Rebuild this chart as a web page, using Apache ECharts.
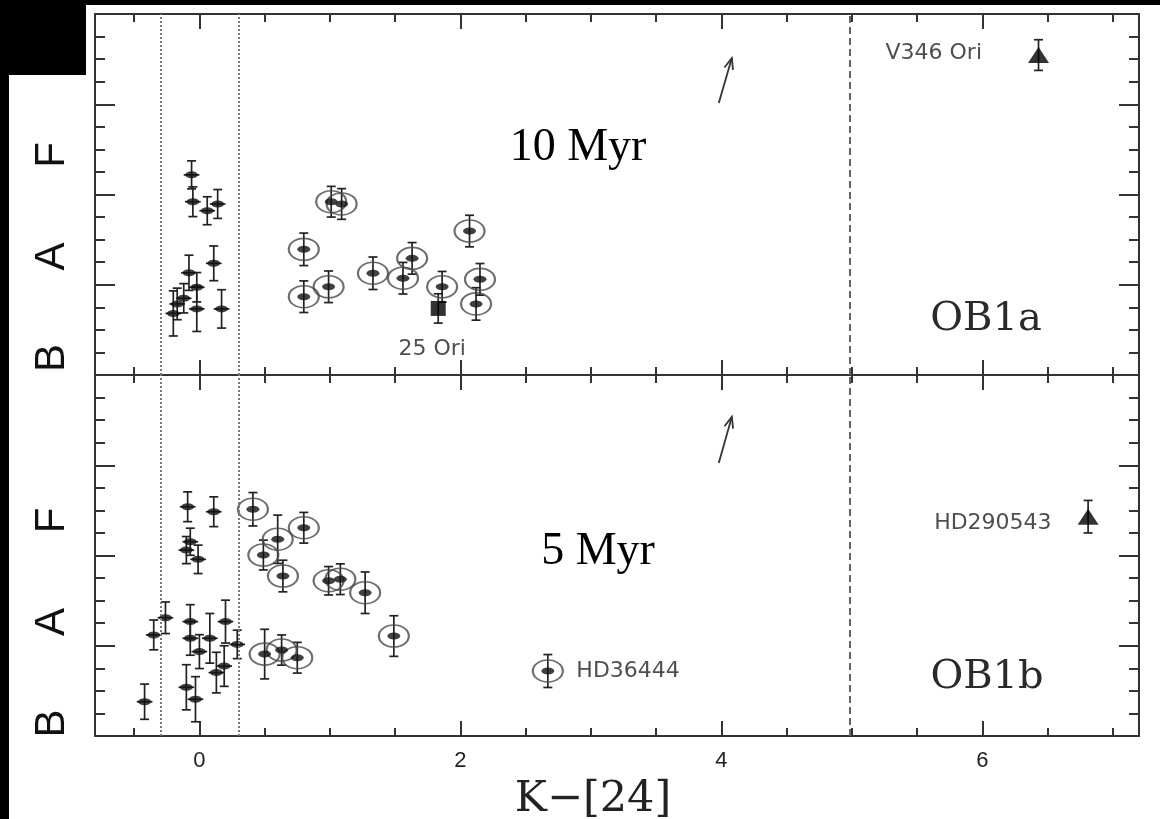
<!DOCTYPE html>
<html>
<head>
<meta charset="utf-8">
<script src="https://cdn.jsdelivr.net/npm/echarts@6/dist/echarts.min.js"></script>
<style>
  html, body { margin: 0; padding: 0; background: #fff; }
  #chart { width: 1160px; height: 819px; }
</style>
</head>
<body>
<div id="chart"></div>
<script>
// axis ranges and ticks
const xMin = -0.8, xMax = 7.2
const yMin = 0, yMax = 16
const xTicksMajor = [0, 2, 4, 6]
const xTicksMinor = [-0.5, 0.5, 1, 1.5, 2.5, 3, 3.5, 4.5, 5, 5.5, 6.5, 7]
const yTicksMajor = [4, 8, 12]
const yTicksMinor = [1, 2, 3, 5, 6, 7, 9, 10, 11, 13, 14, 15]
const specNames = ['B', 'A', 'F']
const specPosA = [0.75, 5.25, 9.75]
const specPosB = [0.55, 5.05, 9.55]
const guideLines = [-0.3, 0.3]
const dashedLine = 4.98

// OB1a (10 Myr): [K-[24], spectral type, y error]
const ob1aField = [
  [-0.06, 8.87, 0.62],
  [-0.05, 7.68, 0.66],
  [0.06, 7.28, 0.62],
  [0.14, 7.58, 0.64],
  [0.11, 4.95, 0.77],
  [-0.08, 4.53, 0.78],
  [-0.02, 3.89, 0.65],
  [-0.12, 3.40, 0.65],
  [-0.17, 3.15, 0.70],
  [-0.20, 2.73, 1.00],
  [-0.02, 2.93, 1.00],
  [0.17, 2.93, 0.85]
]
const ob1aDisk = [
  [0.80, 5.57, 0.72],
  [0.80, 3.47, 0.70],
  [0.99, 3.91, 0.70],
  [1.01, 7.68, 0.68],
  [1.09, 7.58, 0.68],
  [1.33, 4.51, 0.72],
  [1.56, 4.29, 0.70],
  [1.63, 5.17, 0.70],
  [1.86, 3.91, 0.68],
  [2.07, 6.38, 0.70],
  [2.15, 4.24, 0.70],
  [2.12, 3.15, 0.72]
]
const ob1aSquare = [[1.83, 2.95, 0.65]]
const ob1aTriangle = [[6.43, 14.18, 0.68]]
const ob1aArrow = [[3.98, 12.06, 4.08, 14.05]]

// OB1b (5 Myr)
const ob1bField = [
  [-0.09, 10.16, 0.66],
  [0.11, 9.94, 0.66],
  [-0.07, 8.61, 0.60],
  [-0.10, 8.24, 0.60],
  [-0.01, 7.83, 0.63],
  [-0.26, 5.24, 0.70],
  [-0.35, 4.48, 0.66],
  [-0.07, 5.07, 0.75],
  [-0.07, 4.33, 0.75],
  [0.08, 4.33, 1.10],
  [0.20, 5.07, 0.95],
  [0.29, 4.06, 0.63],
  [0.00, 3.74, 0.75],
  [0.19, 3.10, 0.90],
  [0.13, 2.81, 0.90],
  [-0.10, 2.16, 1.00],
  [-0.03, 1.63, 1.00],
  [-0.42, 1.52, 0.78]
]
const ob1bDisk = [
  [0.41, 10.05, 0.74],
  [0.60, 8.72, 1.07],
  [0.80, 9.23, 0.68],
  [0.49, 8.02, 0.66],
  [0.64, 7.09, 0.70],
  [0.99, 6.88, 0.63],
  [1.08, 6.95, 0.68],
  [1.27, 6.35, 0.92],
  [1.49, 4.43, 0.90],
  [0.50, 3.63, 1.10],
  [0.63, 3.81, 0.67],
  [0.75, 3.47, 0.68],
  [2.67, 2.88, 0.73]
]
const ob1bTriangle = [[6.81, 9.72, 0.72]]
const ob1bArrow = [[3.98, 12.1, 4.08, 14.15]]

const ink = '#111'
const frame = '#333'
const ellipsePath = 'path://M0 1A1 1 0 1 1 2 1A1 1 0 1 1 0 1Z'
const fieldXErr = 0.06

const chart = echarts.init(document.getElementById('chart'))

const renderErr = (params, api) => {
  const x = api.value(0), y = api.value(1), ey = api.value(2), ex = api.value(3)
  const st = { stroke: '#222', lineWidth: 1.7 }
  const top = api.coord([x, y + ey])
  const bot = api.coord([x, y - ey])
  const kids = [
    { type: 'line', shape: { x1: top[0], y1: top[1], x2: bot[0], y2: bot[1] }, style: st },
    { type: 'line', shape: { x1: top[0] - 4.5, y1: top[1], x2: top[0] + 4.5, y2: top[1] }, style: st },
    { type: 'line', shape: { x1: bot[0] - 4.5, y1: bot[1], x2: bot[0] + 4.5, y2: bot[1] }, style: st }
  ]
  if (ex > 0) {
    const l = api.coord([x - ex, y]), r = api.coord([x + ex, y])
    kids.push({ type: 'line', shape: { x1: l[0], y1: l[1], x2: r[0], y2: r[1] }, style: st })
  }
  return { type: 'group', children: kids }
}

const renderArrow = (params, api) => {
  const p0 = api.coord([api.value(0), api.value(1)])
  const p1 = api.coord([api.value(2), api.value(3)])
  const ang = Math.atan2(p1[1] - p0[1], p1[0] - p0[0])
  const len = 12, spread = 0.38
  const h1 = [p1[0] - len * Math.cos(ang - spread), p1[1] - len * Math.sin(ang - spread)]
  const h2 = [p1[0] - len * Math.cos(ang + spread), p1[1] - len * Math.sin(ang + spread)]
  const st = { stroke: '#333', lineWidth: 1.8, fill: null }
  return {
    type: 'group',
    children: [
      { type: 'line', shape: { x1: p0[0], y1: p0[1], x2: p1[0], y2: p1[1] }, style: st },
      { type: 'polyline', shape: { points: [h1, p1, h2] }, style: st }
    ]
  }
}

const withXErr = (rows, ex) => rows.map(r => [r[0], r[1], r[2], ex])

const lineOn = { show: true, onZero: false, lineStyle: { color: frame, width: 2 } }
const lineOff = { show: false, onZero: false }

const makeXAxes = (gi, withLabels) => {
  const base = { gridIndex: gi, type: 'value', min: xMin, max: xMax, splitLine: { show: false } }
  return [
    {
      ...base, position: 'bottom', axisLine: lineOn,
      axisTick: { show: true, inside: true, length: 15, customValues: xTicksMajor, lineStyle: { color: frame, width: 2 } },
      axisLabel: {
        show: withLabels, customValues: xTicksMajor, margin: 14,
        fontFamily: 'Liberation Sans', fontSize: 22, color: '#222'
      },
      name: withLabels ? 'K\u2212[24]' : '',
      nameLocation: 'middle', nameGap: 42,
      nameTextStyle: { fontFamily: 'DejaVu Serif', fontSize: 43, color: '#222', padding: [0, 48, 0, 0] }
    },
    {
      ...base, position: 'bottom', axisLine: lineOff,
      axisTick: { show: true, inside: true, length: 8, customValues: xTicksMinor, lineStyle: { color: frame, width: 2 } },
      axisLabel: { show: false }
    },
    {
      ...base, position: 'top', axisLine: lineOn,
      axisTick: { show: true, inside: true, length: 15, customValues: xTicksMajor, lineStyle: { color: frame, width: 2 } },
      axisLabel: { show: false }
    },
    {
      ...base, position: 'top', axisLine: lineOff,
      axisTick: { show: true, inside: true, length: 8, customValues: xTicksMinor, lineStyle: { color: frame, width: 2 } },
      axisLabel: { show: false }
    }
  ]
}

const makeYAxes = (gi, specPos) => {
  const base = { gridIndex: gi, type: 'value', min: yMin, max: yMax, splitLine: { show: false } }
  return [
    {
      ...base, position: 'left', axisLine: lineOn,
      axisTick: { show: true, inside: true, length: 20, customValues: yTicksMajor, lineStyle: { color: frame, width: 2 } },
      axisLabel: {
        show: true, customValues: specPos, rotate: 90, margin: 22,
        fontFamily: 'Liberation Sans', fontSize: 42, color: '#111',
        formatter: (v) => specNames[specPos.findIndex(p => Math.abs(p - v) < 0.01)] || ''
      }
    },
    {
      ...base, position: 'left', axisLine: lineOff,
      axisTick: { show: true, inside: true, length: 10, customValues: yTicksMinor, lineStyle: { color: frame, width: 2 } },
      axisLabel: { show: false }
    },
    {
      ...base, position: 'right', axisLine: lineOn,
      axisTick: { show: true, inside: true, length: 20, customValues: yTicksMajor, lineStyle: { color: frame, width: 2 } },
      axisLabel: { show: false }
    },
    {
      ...base, position: 'right', axisLine: lineOff,
      axisTick: { show: true, inside: true, length: 10, customValues: yTicksMinor, lineStyle: { color: frame, width: 2 } },
      axisLabel: { show: false }
    }
  ]
}

const labelFont = { fontFamily: 'DejaVu Sans', fontSize: 22, color: '#222' }

const panelSeries = (gi, field, disk, extras) => {
  const xi = gi * 4, yi = gi * 4
  const axes = { xAxisIndex: xi, yAxisIndex: yi }
  const list = [
    {
      type: 'scatter', ...axes, data: [], symbolSize: 0, silent: true,
      markLine: {
        silent: true, symbol: 'none', label: { show: false },
        data: [
          ...guideLines.map(v => ({ xAxis: v, lineStyle: { type: [2, 2], color: '#777', width: 2 } })),
          { xAxis: dashedLine, lineStyle: { type: [7, 4], color: '#666', width: 2 } }
        ]
      }
    },
    {
      type: 'custom', ...axes, renderItem: renderErr, silent: true,
      data: [...withXErr(field, fieldXErr), ...withXErr(disk, 0), ...withXErr(extras.markers, 0)]
    },
    {
      type: 'scatter', ...axes, symbol: ellipsePath, symbolSize: [30, 22], silent: true,
      itemStyle: { color: 'rgba(0,0,0,0)', borderColor: '#4a4a4a', borderWidth: 1.9 },
      data: disk
    },
    {
      type: 'scatter', ...axes, symbol: ellipsePath, symbolSize: [13, 7], silent: true,
      itemStyle: { color: ink },
      data: [...field, ...disk.map((d, i) => (i === extras.diskLabelIdx
        ? { value: d, label: { show: true, position: 'right', distance: 22, formatter: extras.diskLabel, ...labelFont } }
        : d))]
    },
    {
      type: 'custom', ...axes, renderItem: renderArrow, silent: true, data: extras.arrow
    }
  ]
  extras.markerSeries.forEach(m => list.push({ ...m, ...axes, silent: true }))
  return list
}

const option = {
  animation: false,
  backgroundColor: '#fff',
  grid: [
    { left: 95, top: 14, width: 1044, height: 361, outerBoundsMode: 'none' },
    { left: 95, top: 375, width: 1044, height: 361, outerBoundsMode: 'none' }
  ],
  xAxis: [...makeXAxes(0, false), ...makeXAxes(1, true)],
  yAxis: [...makeYAxes(0, specPosA), ...makeYAxes(1, specPosB)],
  series: [
    ...panelSeries(0, ob1aField, ob1aDisk, {
      markers: [...ob1aSquare, ...ob1aTriangle],
      arrow: ob1aArrow,
      diskLabelIdx: -1,
      markerSeries: [
        {
          type: 'scatter', symbol: 'rect', symbolSize: [15, 15], itemStyle: { color: '#000' },
          data: ob1aSquare,
          label: { show: true, position: 'bottom', distance: 22, offset: [-6, 0], formatter: '25 Ori', ...labelFont }
        },
        {
          type: 'scatter', symbol: 'triangle', symbolSize: [21, 16], itemStyle: { color: '#000' },
          data: ob1aTriangle,
          label: { show: true, position: 'left', distance: 46, offset: [0, -2], formatter: 'V346 Ori', ...labelFont }
        }
      ]
    }),
    ...panelSeries(1, ob1bField, ob1bDisk, {
      markers: ob1bTriangle,
      arrow: ob1bArrow,
      diskLabelIdx: 12,
      diskLabel: 'HD36444',
      markerSeries: [
        {
          type: 'scatter', symbol: 'triangle', symbolSize: [21, 16], itemStyle: { color: '#000' },
          data: ob1bTriangle,
          label: { show: true, position: 'left', distance: 26, offset: [0, 7], formatter: 'HD290543', ...labelFont }
        }
      ]
    })
  ],
  graphic: [
    { type: 'rect', shape: { x: 0, y: 0, width: 1160, height: 5 }, style: { fill: '#000' } },
    { type: 'rect', shape: { x: 0, y: 0, width: 9, height: 819 }, style: { fill: '#000' } },
    { type: 'rect', shape: { x: 0, y: 0, width: 86, height: 75 }, style: { fill: '#000' } },
    {
      type: 'text', x: 578, y: 148,
      style: { text: '10 Myr', align: 'center', verticalAlign: 'middle', fontFamily: 'Liberation Serif', fontSize: 46, fill: '#000' }
    },
    {
      type: 'text', x: 598, y: 552,
      style: { text: '5 Myr', align: 'center', verticalAlign: 'middle', fontFamily: 'Liberation Serif', fontSize: 46, fill: '#000' }
    },
    {
      type: 'text', x: 986, y: 320,
      style: { text: 'OB1a', align: 'center', verticalAlign: 'middle', fontFamily: 'DejaVu Serif', fontSize: 40, fill: '#2a2a2a' }
    },
    {
      type: 'text', x: 987, y: 678,
      style: { text: 'OB1b', align: 'center', verticalAlign: 'middle', fontFamily: 'DejaVu Serif', fontSize: 40, fill: '#2a2a2a' }
    }
  ]
}

chart.setOption(option)
</script>
</body>
</html>
